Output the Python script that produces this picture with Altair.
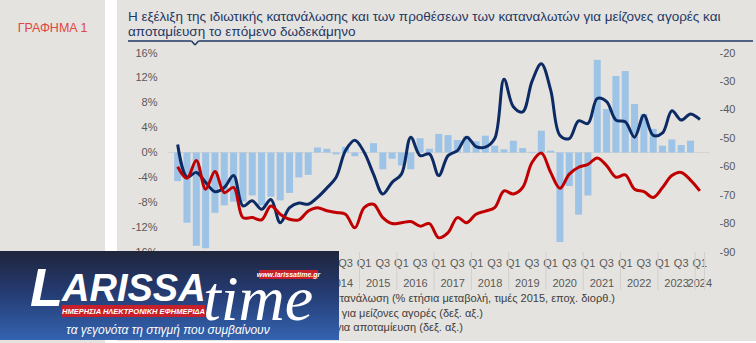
import altair as alt
import pandas as pd

# ---------------- data ----------------
years = [2010, 2011, 2012, 2013, 2014, 2015, 2016, 2017, 2018, 2019, 2020, 2021, 2022, 2023, 2024]
quarter_names = ["Q1", "Q2", "Q3", "Q4"]

# Private consumption, % y/y (left axis), 2010Q1 .. 2023Q4
consumption = [-4.6, -11.3, -15.0, -15.4, -9.7, -8.5, -7.9, -7.9, -6.9, -8.5, -7.1, -7.7,
               -6.5, -4.0, -3.6, 0.8, 0.6, -0.3, 0.9, -0.6, -0.1, 1.5, -2.7, -1.0,
               -2.1, -2.7, 2.3, 0.6, 3.0, 2.8, 2.0, 2.6, 1.8, 2.7, 1.1, 0.5,
               1.9, 0.7, 0.1, 3.5, 0.3, -14.4, -5.4, -10.0, -6.9, 14.9, 7.0, 12.3,
               13.1, 7.8, 6.2, 3.8, 1.1, 2.1, 1.2, 1.9]

# Intentions for major purchases (right axis), 2010Q1 .. 2024Q1
purchases = [-52.2, -63.7, -62.0, -65.5, -68.8, -67.3, -63.1, -73.8, -72.0, -75.0, -71.5, -79.7,
             -74.4, -72.8, -73.2, -70.8, -67.5, -63.7, -54.3, -50.7, -54.9, -62.6, -69.6, -65.5,
             -62.6, -49.6, -56.1, -55.5, -63.1, -56.1, -54.3, -49.6, -52.9, -53.1, -50.1, -29.2,
             -38.9, -40.7, -30.0, -23.8, -33.0, -49.0, -50.1, -43.9, -44.8, -36.0, -37.1, -43.6,
             -44.2, -49.6, -41.9, -49.0, -48.1, -40.3, -43.6, -41.5, -43.4]

# Intentions for savings (right axis), 2010Q1 .. 2024Q1
savings = [-60.0, -64.1, -57.8, -67.9, -61.7, -69.1, -67.3, -77.9, -77.9, -78.7, -73.8, -76.7,
           -78.5, -78.7, -75.6, -74.4, -75.5, -76.1, -76.7, -81.5, -74.4, -73.2, -77.9, -80.0,
           -79.7, -79.3, -80.9, -80.0, -85.0, -83.2, -77.9, -79.7, -76.7, -75.6, -74.4, -68.5,
           -69.6, -67.3, -58.5, -55.2, -62.0, -67.6, -62.6, -60.2, -59.2, -56.9, -59.6, -63.7,
           -62.9, -67.9, -68.8, -70.8, -67.3, -63.1, -62.0, -64.7, -68.5]

left_ticks = [-16, -12, -8, -4, 0, 4, 8, 12, 16]
right_ticks = [-90, -80, -70, -60, -50, -40, -30, -20]

title_line1 = "Η εξέλιξη της ιδιωτικής κατανάλωσης και των προθέσεων των καταναλωτών για μείζονες αγορές και"
title_line2 = "αποταμίευση το επόμενο δωδεκάμηνο"
side_label = "ΓΡΑΦΗΜΑ 1"
legend_labels = ["Ιδιωτική κατανάλωση (% ετήσια μεταβολή, τιμές 2015, εποχ. διορθ.)",
                 "Προθέσεις για μείζονες αγορές (δεξ. αξ.)",
                 "Προθέσεις για αποταμίευση (δεξ. αξ.)"]

# ---------------- tables ----------------
n = len(purchases)
period_year = [y for y in years for q in quarter_names][:n]
period_q = [q for y in years for q in quarter_names][:n]
t_idx = list(range(n))

bars_df = pd.DataFrame({"t": t_idx[:len(consumption)], "value": consumption})
lines_df = pd.DataFrame({"t": t_idx, "purchases": purchases, "savings": savings})
qlab_df = pd.DataFrame({"t": t_idx, "q": period_q})
qlab_df = qlab_df[qlab_df["q"].isin(["Q1", "Q3"])]
tmp = pd.DataFrame({"t": t_idx, "year": period_year})
year_df = tmp.groupby("year", as_index=False)["t"].mean()
year_df["label"] = year_df["year"].astype(str)
sep_df = pd.DataFrame({"t": list(tmp.groupby("year")["t"].min() - 0.5) + [n - 0.5]})

# ---------------- layout helpers ----------------
FONT = "Liberation Sans"
OX, OY = 168, 53
W, H = 541.5, 199
NAVY_T = "#1f3864"
AX_COL = "#595959"


def px(v):
    return v - OX


def py(v):
    return v - OY


one = pd.DataFrame({"k": [0]})


def box(x1, x2, y1, y2, color, **kw):
    return alt.Chart(one).mark_rect(color=color, **kw).encode(
        x=alt.value(px(x1)), x2=alt.value(px(x2)), y=alt.value(py(y1)), y2=alt.value(py(y2)))


def label(x, y, txt, **kw):
    kw.setdefault("font", FONT)
    return alt.Chart(one).mark_text(text=txt, **kw).encode(x=alt.value(px(x)), y=alt.value(py(y)))


def seg(x1, y1, x2, y2, color, width):
    return alt.Chart(one).mark_rule(color=color, strokeWidth=width).encode(
        x=alt.value(px(x1)), x2=alt.value(px(x2)), y=alt.value(py(y1)), y2=alt.value(py(y2)))


X = alt.X("t:Q", scale=alt.Scale(domain=[-0.5, n - 0.5], nice=False, zero=False), axis=None)
left_scale = alt.Scale(domain=[-16, 16], nice=False, zero=False)
right_scale = alt.Scale(domain=[-90, -20], nice=False, zero=False)

# ---------------- layers ----------------
gap = box(105, 117, 0, 343, "#ffffff")
bottom_strip = box(117, 756, 341, 343, "#ffffff")

zero_rule = alt.Chart(one).mark_rule(color="#d3d3d3", strokeWidth=1).encode(
    y=alt.Y(datum=0, scale=left_scale, axis=None), x=alt.value(0), x2=alt.value(W))

bars = alt.Chart(bars_df).mark_bar(size=7, color="#9dc3e6").encode(
    x=X,
    y=alt.Y("value:Q", scale=left_scale,
            axis=alt.Axis(orient="left", values=left_ticks, labelExpr="datum.value + '%'",
                          title=None, domain=False, ticks=False, tickSize=0, grid=False,
                          labelPadding=11, labelFontSize=11, labelColor=AX_COL, labelFont=FONT)))

line_p = alt.Chart(lines_df).mark_line(color="#0c2a63", strokeWidth=3, interpolate="catmull-rom").encode(
    x=X,
    y=alt.Y("purchases:Q", scale=right_scale,
            axis=alt.Axis(orient="right", values=right_ticks, labelExpr="'' + datum.value",
                          title=None, domain=False, ticks=False, tickSize=0, grid=False,
                          labelPadding=9.5, labelFontSize=11, labelColor=AX_COL, labelFont=FONT)))

line_s = alt.Chart(lines_df).mark_line(color="#c00000", strokeWidth=3, interpolate="catmull-rom").encode(
    x=X, y=alt.Y("savings:Q", scale=right_scale, axis=None))

q_text = alt.Chart(qlab_df).mark_text(fontSize=11, color=AX_COL, font=FONT, baseline="middle").encode(
    x=X, y=alt.value(py(263.5)), text="q:N")
y_text = alt.Chart(year_df).mark_text(fontSize=11, color=AX_COL, font=FONT, baseline="middle").encode(
    x=X, y=alt.value(py(283.5)), text="label:N")
seps = alt.Chart(sep_df).mark_rule(color="#d0d0d0", strokeWidth=1).encode(
    x=X, y=alt.value(py(252)), y2=alt.value(py(290)))

# legend (mostly hidden behind the logo, as in the reference)
LEG_COL = "#404040"
leg = [
    box(178, 196, 295, 303, "#9dc3e6"),
    seg(178, 313.5, 196, 313.5, "#0c2a63", 3),
    seg(178, 328, 196, 328, "#c00000", 3),
    label(615, 299, legend_labels[0], fontSize=11, color=LEG_COL, align="right", baseline="middle"),
    label(483, 313.5, legend_labels[1], fontSize=11, color=LEG_COL, align="right", baseline="middle"),
    label(463, 328, legend_labels[2], fontSize=11, color=LEG_COL, align="right", baseline="middle"),
]

# title block
title = [
    label(52.5, 31.5, side_label, fontSize=12.5, color="#e0463c", align="center", baseline="alphabetic"),
    label(128, 20.5, title_line1, fontSize=13.5, color=NAVY_T, align="left", baseline="alphabetic"),
    label(128, 35.5, title_line2, fontSize=13.5, color=NAVY_T, align="left", baseline="alphabetic"),
    seg(128, 41, 191.5, 41, NAVY_T, 1.5),
    seg(198.5, 41, 753, 41, NAVY_T, 1.5),
    seg(191.5, 41, 195, 45, NAVY_T, 1.5),
    seg(195, 45, 198.5, 41, NAVY_T, 1.5),
]

# logo overlay
grad = alt.LinearGradient(gradient="linear", x1=0, x2=0, y1=0, y2=1,
                          stops=[alt.GradientStop(color="#1f263c", offset=0),
                                 alt.GradientStop(color="#243a70", offset=0.45),
                                 alt.GradientStop(color="#3463b0", offset=1)])
logo = [
    box(0, 339, 251, 340, grad),
    label(30, 306, "L", fontSize=54, fontWeight="bold", fontStyle="italic", color="#ffffff",
          align="left", baseline="alphabetic"),
    label(62, 301, "ARISSA", fontSize=38, fontWeight="bold", fontStyle="italic", color="#ffffff",
          align="left", baseline="alphabetic"),
    label(203, 320, "time", font="Liberation Serif", fontSize=64, fontStyle="italic", color="#ffffff",
          align="left", baseline="alphabetic"),
    box(62, 205, 305, 317, "#c8202a"),
    label(133.5, 311.5, "ΗΜΕΡΗΣΙΑ ΗΛΕΚΤΡΟΝΙΚΗ ΕΦΗΜΕΡΙΔΑ", fontSize=7.5, fontWeight="bold",
          fontStyle="italic", color="#ffffff", align="center", baseline="middle"),
    box(259, 318, 270, 279, "#c8202a"),
    label(288.5, 274.8, "www.larissatime.gr", fontSize=7, fontWeight="bold", fontStyle="italic",
          color="#ffffff", align="center", baseline="middle"),
    label(168, 330, "τα γεγονότα τη στιγμή που συμβαίνουν", fontSize=12, fontStyle="italic",
          color="#ffffff", align="center", baseline="middle"),
]

chart = alt.layer(
    gap, bottom_strip, zero_rule, bars, line_p, line_s, q_text, y_text, seps,
    *leg, *title, *logo
).resolve_scale(y="independent").properties(
    width=W, height=H,
    autosize=alt.AutoSizeParams(type="none"),
    padding={"left": OX, "top": OY, "right": 756 - OX - W, "bottom": 343 - OY - H},
    background="#e5e3df",
).configure_view(stroke=None)

chart.save("out.html", embed_options={"renderer": "svg", "actions": False})
